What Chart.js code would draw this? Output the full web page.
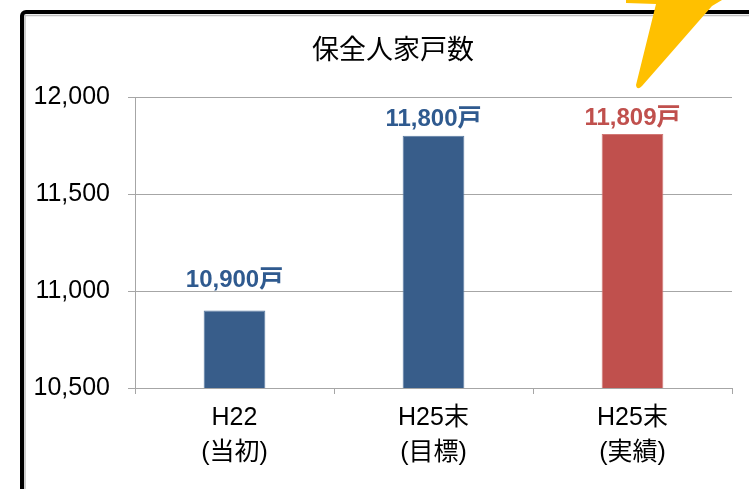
<!DOCTYPE html>
<html><head><meta charset="utf-8">
<script src="https://cdn.jsdelivr.net/npm/chart.js@4/dist/chart.umd.min.js"></script>
<style>html,body{margin:0;padding:0;background:#fff;}#wrap{width:749px;height:489px;position:relative;}</style>
</head><body><div id="wrap"><canvas id="c" width="749" height="489"></canvas></div>
<script>
const categories = [['H22','(当初)'], ['H25末','(目標)'], ['H25末','(実績)']];
const values = [10900, 11800, 11809];
const valueLabels = ['10,900戸', '11,800戸', '11,809戸'];
const yTicks = [10500, 11000, 11500, 12000];
const titleText = '保全人家戸数';

const barColors = ['#385D8A', '#385D8A', '#C0504D'];
const labelColors = ['#2F5A8F', '#2F5A8F', '#C0504D'];
const FONT = '"Liberation Sans", Arial, "Noto Sans CJK JP", sans-serif';

const framePlugin = {
  id: 'frame',
  beforeDraw(chart) {
    const ctx = chart.ctx;
    ctx.save();
    ctx.fillStyle = '#fff';
    ctx.fillRect(0, 0, chart.width, chart.height);
    ctx.strokeStyle = '#BFBFBF';
    ctx.lineWidth = 1.5;
    ctx.beginPath();
    ctx.moveTo(25, 489); ctx.lineTo(25, 15.5); ctx.lineTo(749, 15.5);
    ctx.stroke();
    ctx.strokeStyle = '#000';
    ctx.lineWidth = 4;
    ctx.beginPath();
    ctx.moveTo(22, 489); ctx.lineTo(22, 16); ctx.arcTo(22, 12, 26, 12, 4); ctx.lineTo(749, 12);
    ctx.stroke();
    // title
    ctx.fillStyle = '#000';
    ctx.font = '27px "Noto Sans CJK JP", sans-serif';
    ctx.textAlign = 'center';
    ctx.textBaseline = 'middle';
    ctx.fillText(titleText, 393, 49);
    ctx.restore();
  },
  afterDraw(chart) {
    const ctx = chart.ctx;
    ctx.save();
    ctx.fillStyle = '#FFC000';
    ctx.beginPath();
    ctx.moveTo(626, 0); ctx.lineTo(722, 0); ctx.lineTo(712, 6);
    ctx.lineTo(642, 86); ctx.quadraticCurveTo(637, 91, 636, 85);
    ctx.lineTo(656, 4); ctx.lineTo(626, 3);
    ctx.closePath();
    ctx.fill();
    ctx.restore();
  }
};

const labelPlugin = {
  id: 'valueLabels',
  afterDatasetsDraw(chart) {
    const ctx = chart.ctx;
    const meta = chart.getDatasetMeta(0);
    ctx.save();
    ctx.font = 'bold 24px ' + FONT;
    ctx.textAlign = 'center';
    ctx.textBaseline = 'middle';
    meta.data.forEach((bar, i) => {
      const off = i === 0 ? 30 : 16;
      ctx.fillStyle = labelColors[i];
      ctx.fillText(valueLabels[i], bar.x, bar.y - off);
    });
    ctx.restore();
  }
};

new Chart(document.getElementById('c'), {
  type: 'bar',
  data: {
    labels: categories,
    datasets: [{
      data: values,
      backgroundColor: barColors,
      borderColor: barColors.map(c => c === '#C0504D' ? '#D27875' : '#5A7BA3'),
      borderWidth: 1,
      barPercentage: 0.31,
      categoryPercentage: 1.0
    }]
  },
  options: {
    responsive: false,
    animation: false,
    devicePixelRatio: 1,
    layout: { padding: { left: 0, right: 17, top: 97, bottom: 0 } },
    plugins: {
      legend: { display: false },
      tooltip: { enabled: false },
      title: { display: false }
    },
    scales: {
      y: {
        min: 10500, max: 12000,
        afterBuildTicks(scale) { scale.ticks = yTicks.map(v => ({ value: v })); },
        afterFit(scale) { scale.width = 135; },
        ticks: {
          color: '#000',
          font: { family: FONT, size: 25 },
          padding: 18,
          callback: v => v.toLocaleString('en-US')
        },
        grid: { color: '#A6A6A6', lineWidth: 1, tickLength: 7, drawTicks: true },
        border: { display: true, color: '#A6A6A6', width: 1 }
      },
      x: {
        afterFit(scale) { scale.height = 101; },
        ticks: {
          color: '#000',
          font: { family: FONT, size: 25, lineHeight: 1.4 },
          padding: 7,
          maxRotation: 0
        },
        grid: { display: true, drawOnChartArea: false, color: '#A6A6A6', tickLength: 6, offset: true },
        border: { display: true, color: '#A6A6A6', width: 1 }
      }
    }
  },
  plugins: [framePlugin, labelPlugin]
});
</script>
</body></html>
